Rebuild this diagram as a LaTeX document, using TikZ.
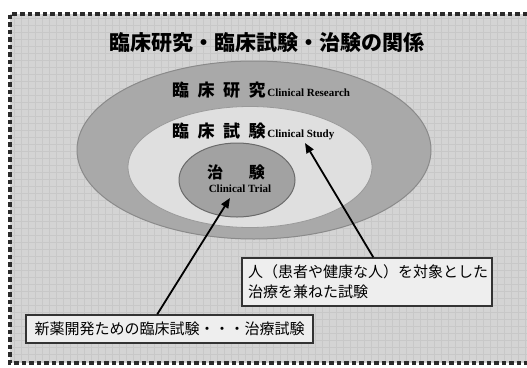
\documentclass[tikz,border=0pt]{standalone}
\usepackage{fontspec}
\setmainfont{Liberation Serif}
\newfontfamily\jp{Noto Sans CJK JP}
\usetikzlibrary{shapes.geometric,arrows.meta}
\definecolor{bggray}{HTML}{D4D4D4}
\definecolor{gridgray}{HTML}{C8C8C8}
\definecolor{framegray}{HTML}{2A2A2A}
\definecolor{outerfill}{HTML}{A9A9A9}
\definecolor{outerline}{HTML}{8A8A8A}
\definecolor{midfill}{HTML}{DFDFDF}
\definecolor{midline}{HTML}{9A9A9A}
\definecolor{innerfill}{HTML}{A2A2A2}
\definecolor{innerline}{HTML}{6A6A6A}
\definecolor{boxfill}{HTML}{EEEEEE}
\begin{document}
\begin{tikzpicture}[x=1pt,y=-1pt,
  frameline/.style={draw=framegray,line width=3.5pt,dash pattern=on 4.5pt off 3pt},
  ring/.style={ellipse,inner sep=0pt},
  ringlabel/.style={anchor=west,inner sep=0pt,font=\jp\bfseries\fontsize{17}{19}\selectfont},
  engl/.style={font=\normalfont\bfseries\fontsize{11}{13}\selectfont},
  notebox/.style={draw=black!80,line width=1.5pt,fill=boxfill,inner xsep=6pt,inner ysep=3pt,font=\jp\fontsize{15}{20}\selectfont},
  arr/.style={draw=black,line width=1.8pt,-{Triangle[length=10pt,width=8pt]}}]
\useasboundingbox (0,0) rectangle (527,367);
\fill[white] (0,0) rectangle (527,367);
\fill[bggray] (10,14) rectangle (527,363);
\foreach \gx in {14,21,...,527} {\draw[gridgray,line width=0.4pt] (\gx,14) -- (\gx,363);}
\foreach \gy in {18,25,...,363} {\draw[gridgray,line width=0.4pt] (10,\gy) -- (527,\gy);}
\draw[frameline] (527,14) -- (10,14) -- (10,363) -- (527,363);

\node[font=\jp\bfseries\fontsize{21}{24}\selectfont] (title) at (267,43) {臨床研究・臨床試験・治験の関係};

\node[ring,fill=outerfill,draw=outerline,line width=1pt,minimum width=354pt,minimum height=178pt] (outer) at (254,150) {};
\node[ring,fill=midfill,draw=midline,line width=0.8pt,minimum width=244pt,minimum height=121pt] (mid) at (250,167) {};
\node[ring,fill=innerfill,draw=innerline,line width=1pt,minimum width=116pt,minimum height=74pt] (inner) at (237,180) {};

\node[ringlabel] (l1) at (172,90) {臨\hspace{0.5em}床\hspace{0.5em}研\hspace{0.5em}究\hspace{0.1em}{\normalfont\bfseries\fontsize{11}{13}\selectfont Clinical Research}};
\node[ringlabel] (l2) at (172,131.5) {臨\hspace{0.5em}床\hspace{0.5em}試\hspace{0.5em}験\hspace{0.1em}{\normalfont\bfseries\fontsize{11}{13}\selectfont Clinical Study}};
\node[font=\jp\bfseries\fontsize{16}{18}\selectfont,inner sep=0pt] (l3) at (236,172) {治\hspace{1.6em}験};
\node[engl,inner sep=0pt] (l4) at (240,188.5) {Clinical Trial};

\node[notebox,align=left,text width=238pt,minimum height=48pt] (box1) at (367,282) {人（患者や健康な人）を対象とした\\治療を兼ねた試験};
\node[notebox,minimum width=287pt,minimum height=28pt] (box2) at (169.5,329) {新薬開発ための臨床試験・・・治療試験};

\coordinate (t1) at (230,198);
\coordinate (t2) at (305,143);
\draw[arr] ([xshift=132pt]box2.north west) -- (t1);
\draw[arr] ([xshift=132pt]box1.north west) -- (t2);
\end{tikzpicture}
\end{document}
